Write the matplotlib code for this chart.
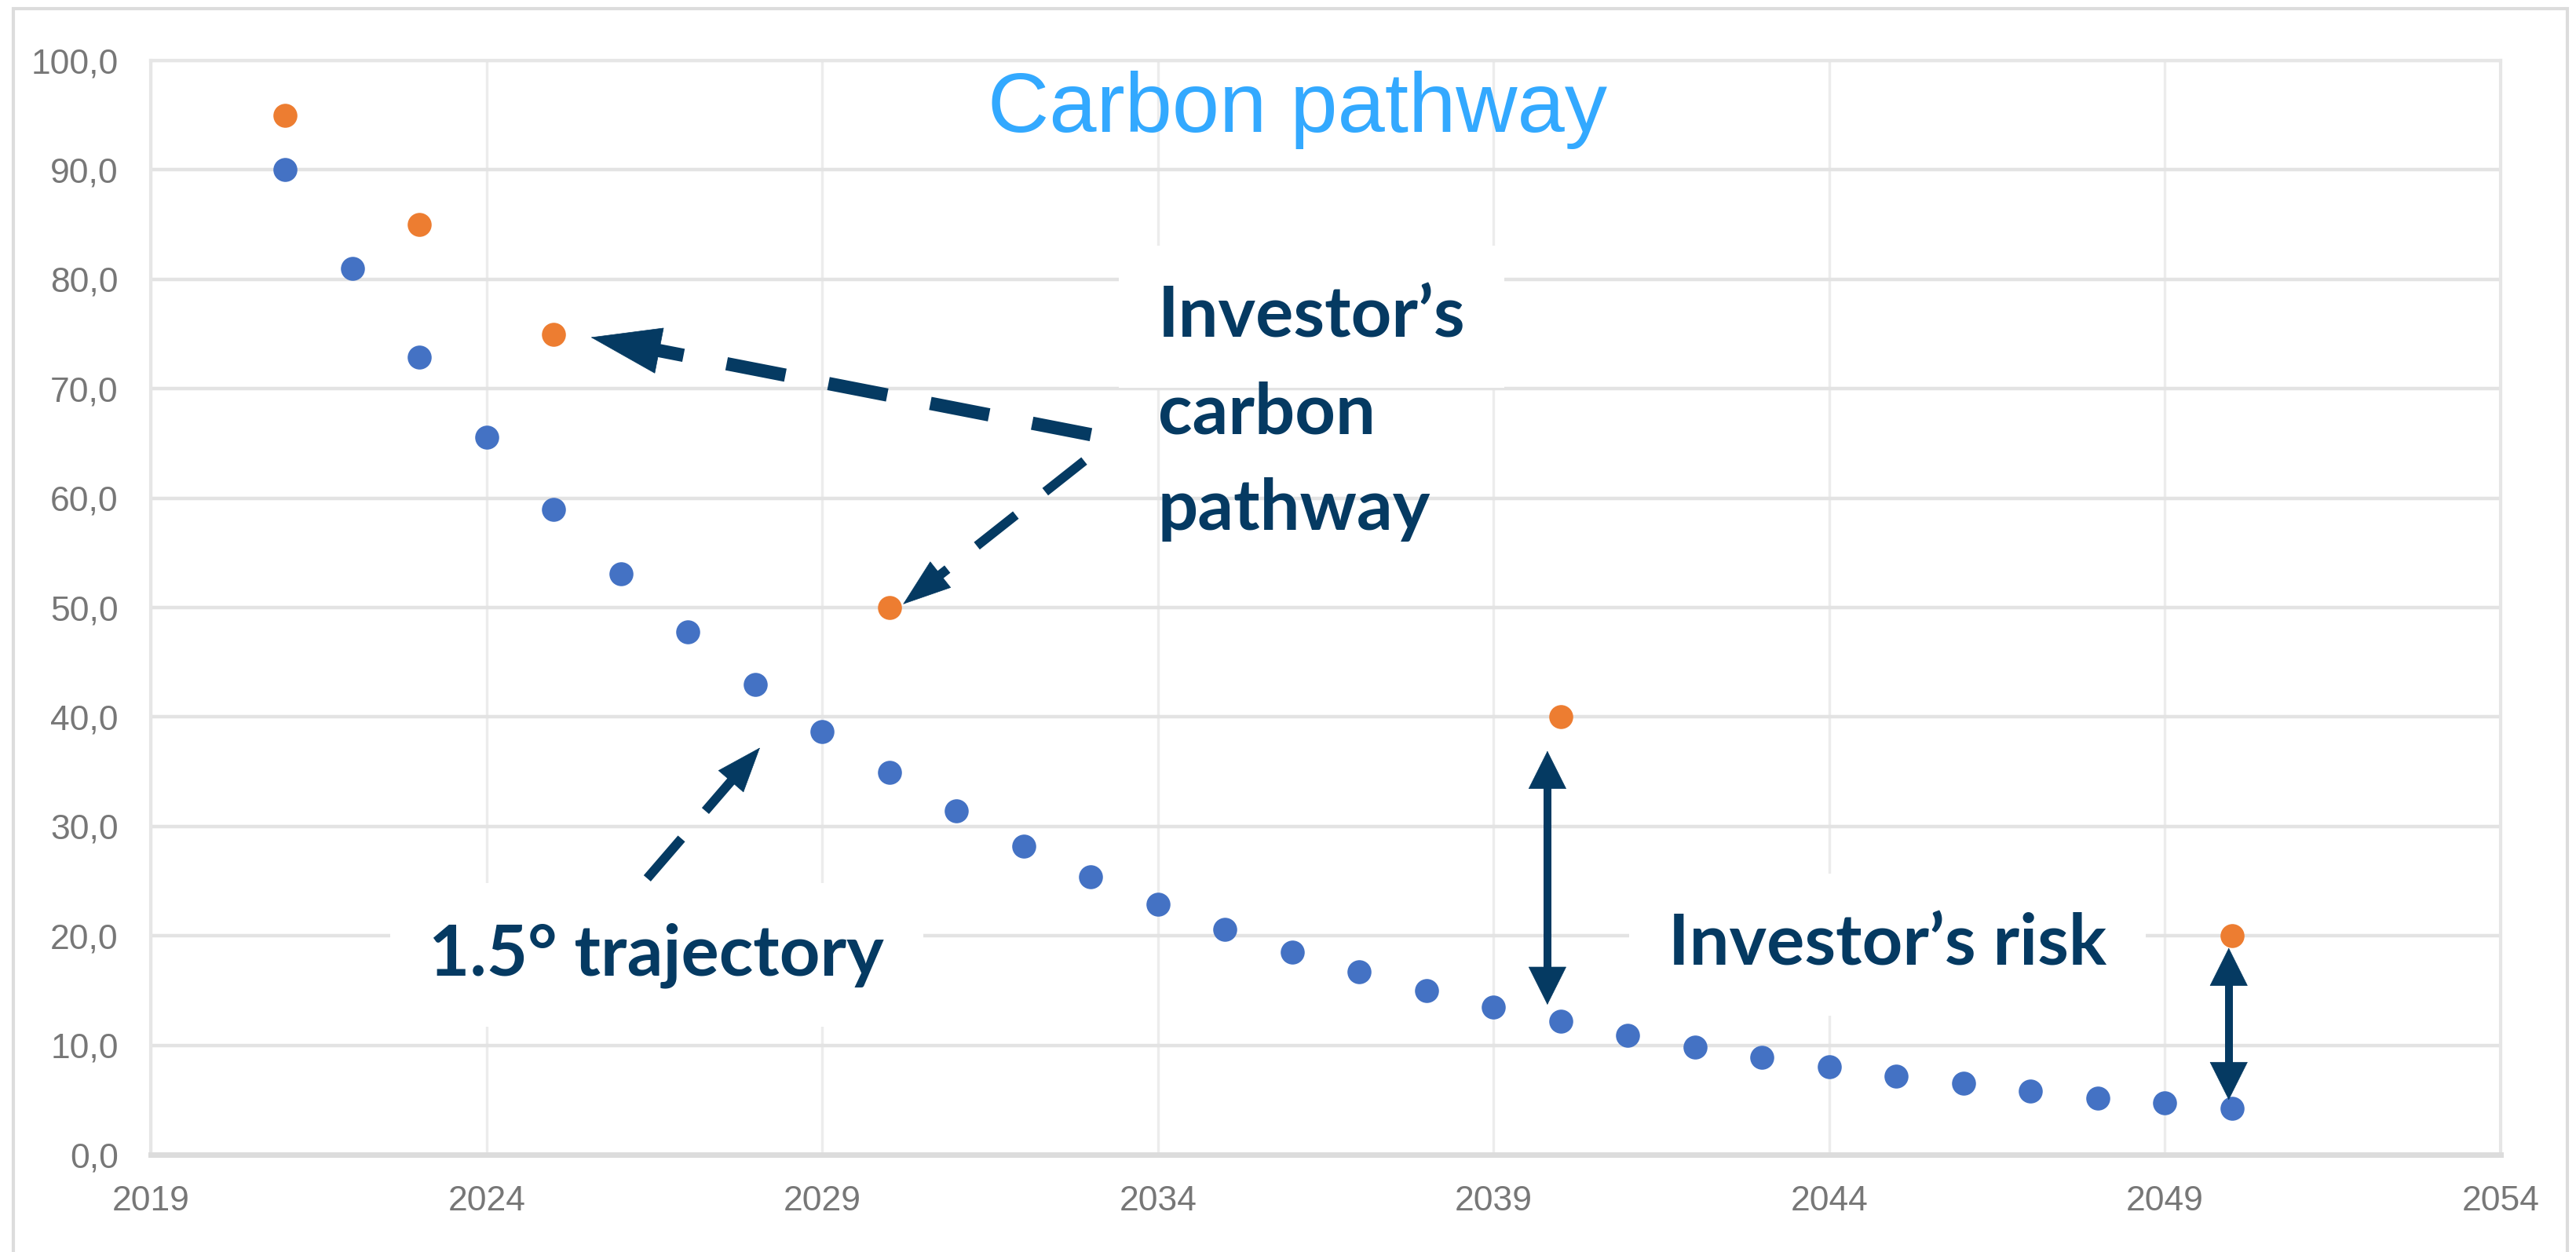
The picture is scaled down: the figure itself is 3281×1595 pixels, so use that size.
import numpy as np
import matplotlib
matplotlib.use("Agg")
from matplotlib import pyplot as plt
from matplotlib.patches import Rectangle

# 1.5 degree trajectory (blue) and investor's pathway (orange)
years_15 = [2021, 2022, 2023, 2024, 2025, 2026, 2027, 2028, 2029, 2030,
            2031, 2032, 2033, 2034, 2035, 2036, 2037, 2038, 2039, 2040,
            2041, 2042, 2043, 2044, 2045, 2046, 2047, 2048, 2049, 2050]
values_15 = [90.0, 81.0, 72.9, 65.6, 59.0, 53.1, 47.8, 43.0, 38.7, 34.9,
             31.4, 28.2, 25.4, 22.9, 20.6, 18.5, 16.7, 15.0, 13.5, 12.2,
             10.9, 9.8, 8.9, 8.0, 7.2, 6.5, 5.8, 5.2, 4.7, 4.2]
years_inv = [2021, 2023, 2025, 2030, 2040, 2050]
values_inv = [95.0, 85.0, 75.0, 50.0, 40.0, 20.0]

x_ticks = [2019, 2024, 2029, 2034, 2039, 2044, 2049, 2054]
y_ticks = [0, 10, 20, 30, 40, 50, 60, 70, 80, 90, 100]

title = "Carbon pathway"
navy = "#053A62"
blue = "#4472C4"
orange = "#ED7D31"

fig = plt.figure(figsize=(32.81, 15.95), dpi=100)
ax = fig.add_axes([0.05867, 0.07774, 0.91207, 0.87398])

# outer chart frame
fig.patches.append(Rectangle((0.0052, -0.01), 0.9914, 1.0031, transform=fig.transFigure,
                             fill=False, ec="#DCDCDC", lw=3))

ax.set_xlim(2019, 2054)
ax.set_ylim(0, 100)
ax.set_xticks(x_ticks)
ax.set_yticks(y_ticks)
ax.set_yticklabels([("%.1f" % v).replace(".", ",") for v in y_ticks])
ax.tick_params(length=0, labelsize=32, labelcolor="#777777")
ax.tick_params(axis="y", pad=30)
ax.tick_params(axis="x", pad=28)
for lab in ax.get_xticklabels() + ax.get_yticklabels():
    lab.set_family(["Liberation Sans", "DejaVu Sans"])

ax.set_axisbelow(True)
ax.grid(axis="y", color="#E3E3E3", lw=3.2)
ax.grid(axis="x", color="#ECECEC", lw=2.4)
for side in ["left", "right", "top"]:
    ax.spines[side].set_color("#E6E6E6")
    ax.spines[side].set_linewidth(3)
ax.spines["bottom"].set_color("#DCDCDC")
ax.spines["bottom"].set_linewidth(5)

ax.plot(years_15, values_15, ls="none", marker="o", ms=22, color=blue, mec="none", zorder=4)
ax.plot(years_inv, values_inv, ls="none", marker="o", ms=22, color=orange, mec="none", zorder=4)

fig.text(0.5036, 0.8947, title, ha="center", va="baseline", fontsize=78,
         color="#33A9FF", family=["Liberation Sans", "DejaVu Sans"])

txt = dict(color=navy, fontsize=65, fontweight="bold", family=["Lato", "DejaVu Sans"],
           ha="left", va="baseline", zorder=5)
box = dict(boxstyle="square,pad=0.55", fc="white", ec="none")
ax.text(2034.0, 74.7, "Investor\u2019s", bbox=box, **txt)
ax.text(2034.0, 65.9, "carbon", **txt)
ax.text(2034.0, 57.1, "pathway", **txt)
ax.text(2023.14, 16.43, "1.5\u00b0 trajectory", bbox=box, **txt)
ax.text(2041.6, 17.3, "Investor\u2019s risk", bbox=box, **txt)


def head_base(start, tip, head_px):
    p0 = ax.transData.transform(start)
    p1 = ax.transData.transform(tip)
    u = (p1 - p0) / np.hypot(*(p1 - p0))
    return ax.transData.inverted().transform(p1 - u * head_px)


def arrow_head(base, tip, hl, hw):
    ax.annotate("", xy=tip, xytext=base,
                arrowprops=dict(arrowstyle="-|>,head_length=%g,head_width=%g" % (hl, hw),
                                mutation_scale=1, color=navy, lw=0.5,
                                shrinkA=0, shrinkB=0), zorder=5)


def dashed_arrow(start, tip, lw, dash, hl, hw):
    base = head_base(start, tip, hl / 0.72)
    ax.plot([start[0], base[0]], [start[1], base[1]], color=navy, lw=lw,
            ls=(0, dash), dash_capstyle="butt", zorder=5)
    arrow_head(base, tip, hl, hw)


def double_arrow(x, y0, y1, lw, hl, hw):
    b0 = head_base((x, y1), (x, y0), hl / 0.72)
    b1 = head_base((x, y0), (x, y1), hl / 0.72)
    ax.plot([x, x], [b0[1], b1[1]], color=navy, lw=lw, solid_capstyle="butt", zorder=5)
    arrow_head(b0, (x, y0), hl, hw)
    arrow_head(b1, (x, y1), hl, hw)


dashed_arrow((2033.0, 65.8), (2025.55, 74.7), 12.2, (4.5, 3.3), 63, 21)
dashed_arrow((2032.9, 63.4), (2030.2, 50.3), 8.6, (5.3, 4.0), 43, 15)
dashed_arrow((2026.39, 25.25), (2028.07, 37.2), 8.6, (5.6, 3.9), 40, 15)
double_arrow(2039.8, 13.7, 36.9, 7.2, 34, 17)
double_arrow(2049.95, 5.0, 18.9, 7.2, 34, 17)

fig.savefig("out.png", dpi=100)
